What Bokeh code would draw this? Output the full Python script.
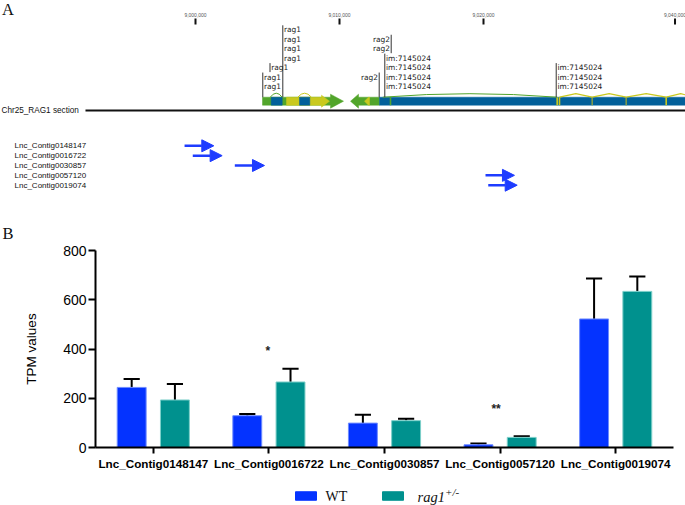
import numpy as np
from bokeh.plotting import figure
from bokeh.models import (ColumnDataSource, Range1d, FactorRange, FixedTicker,
                          Arrow, NormalHead)
from bokeh.layouts import column
from bokeh.transform import dodge
from bokeh.core.properties import value
from bokeh.embed import file_html
from bokeh.resources import INLINE

# ------------------------------------------------------------------ data
contigs = ["Lnc_Contig0148147", "Lnc_Contig0016722", "Lnc_Contig0030857",
           "Lnc_Contig0057120", "Lnc_Contig0019074"]
contig_start = [8999240, 8999810, 9002730, 9020140, 9020330]
contig_end = [9001270, 9001850, 9004790, 9022150, 9022340]

scale_pos = [9000000, 9010000, 9020000, 9033300]
scale_labels = ["9,000,000", "9,010,000", "9,020,000", "9,040,000"]

chrom_name = "Chr25_RAG1 section"
chrom_start = 8992360

# gene models (genomic bp)
gene_start = [9004653, 9010764]
gene_end = [9010278, 9012778]
gene_strand = [1, -1]
cds_start = [9006319, 9011736]
cds_end = [9009305, 9012083]
cds_strand = [1, -1]
exon_start = [9005257, 9007222, 9012778]
exon_end = [9006021, 9007938, 9034100]
marker_pos = [9013542, 9025117, 9025277, 9027548, 9029909, 9032687]
marker_kind = ["g", "y", "y", "gy", "gy", "y"]
arc_start = [9005190, 9007100, 9013000]
arc_end = [9006021, 9008050, 9025117]
arc_kind = ["g", "y", "g"]
intron_bounds = [9025277, 9027548, 9029909, 9032687, 9034700]

# feature annotations
ann_text = ["rag1", "rag1", "rag1", "rag2", "rag2", "im:7145024", "im:7145024"]
ann_pos = [9004673, 9005174, 9006063, 9012757, 9013590, 9013146, 9025049]
ann_count = [2, 1, 4, 1, 2, 4, 3]
ann_level0 = [0, 2, 3, 1, 4, 0, 0]
ann_side = ["right", "right", "right", "left", "left", "right", "right"]
ann_to_bar = [True, False, True, True, False, True, True]

# expression (TPM)
wt_mean = [244, 129, 99, 11, 522]
wt_err = [34, 7, 34, 5, 164]
rag_mean = [193, 266, 109, 41, 634]
rag_err = [65, 54, 8, 5, 60]
sig_contig = ["Lnc_Contig0016722", "Lnc_Contig0057120"]
sig_text = ["*", "**"]
sig_y = [391, 158]
sig_xoff = [-1, -4]

series = ["WT", "rag1"]
series_sup = ["", "+/-"]
y_ticks = [0, 200, 400, 600, 800]

# ------------------------------------------------------------------ style
GREEN = "#52A52B"
YELLOW = "#C9C91F"
GBLUE = "#02609A"
ARROW_BLUE = "#1E3CFF"
WT_C = "#0433FF"
RAG_C = "#00918E"
WT_EDGE = "#6E8BFF"
RAG_EDGE = "#7CCFC9"
series_colors = [WT_C, RAG_C]
kind_color = {"g": GREEN, "y": YELLOW, "gy": "#7E9A4A"}

W = 685
X_LEFT, X_RIGHT = 8986458, 9034028
BP_PER_PX = (X_RIGHT - X_LEFT) / 685.0


def gx(px):
    return X_LEFT + px * BP_PER_PX


def no_align(p):
    try:
        p.frame_align = False
    except Exception:
        pass


# ================================================================ panel A
p1 = figure(width=W, height=200, x_range=Range1d(X_LEFT, X_RIGHT),
            y_range=Range1d(200, 0), x_axis_location=None, y_axis_location=None,
            min_border=0, outline_line_color=None, output_backend="svg",
            toolbar_location=None, tools="")
p1.grid.visible = False
no_align(p1)

p1.text(x=[gx(1.5)], y=[-0.5], text=["A"], text_baseline="top",
        text_font=value("Liberation Serif"), text_font_size=value("16.5px"),
        text_color="#111")

# scale bar
p1.segment(x0=scale_pos, y0=18, x1=scale_pos, y1=24, line_width=2, line_color="#111")
p1.text(x=scale_pos, y=14, text=scale_labels, text_align="center",
        text_baseline="middle", text_font=value("Liberation Sans"),
        text_font_size=value("5px"), text_color="#555")

# chromosome line
BAR_C = 100.7
p1.segment(x0=[chrom_start], y0=[110], x1=[X_RIGHT + 2000], y1=[110],
           line_width=2, line_color="#111")
p1.text(x=[gx(1)], y=[110], text=[chrom_name], text_baseline="middle",
        text_font=value("Liberation Sans"), text_font_size=value("8.2px"),
        text_color="#111")


def arrow_poly(s, e, strand, head_px, hb, hh):
    h = head_px * BP_PER_PX
    if strand > 0:
        xs = [s, e - h, e - h, e, e - h, e - h, s]
    else:
        xs = [e, s + h, s + h, s, s + h, s + h, e]
    ys = [BAR_C - hb, BAR_C - hb, BAR_C - hh, BAR_C, BAR_C + hh, BAR_C + hb, BAR_C + hb]
    return xs, ys


gxs, gys = [], []
for s, e, st in zip(gene_start, gene_end, gene_strand):
    xs, ys = arrow_poly(s, e, st, 13 if st > 0 else 8, 4, 7)
    gxs.append(xs); gys.append(ys)
p1.patches(gxs, gys, fill_color=GREEN, line_color=GREEN, line_width=0.5)

cxs, cys = [], []
for s, e, st in zip(cds_start, cds_end, cds_strand):
    xs, ys = arrow_poly(s, e, st, 8 if st > 0 else 4, 4, 6 if st > 0 else 4)
    cxs.append(xs); cys.append(ys)
p1.patches(cxs, cys, fill_color=YELLOW, line_color=YELLOW, line_width=0.5)

p1.quad(left=exon_start, right=exon_end, top=BAR_C - 4, bottom=BAR_C + 4,
        fill_color=GBLUE, line_color=GBLUE, line_width=0.5)

p1.segment(x0=marker_pos, y0=BAR_C - 4, x1=marker_pos, y1=BAR_C + 4,
           line_width=1.6, line_color=[kind_color[k] for k in marker_kind])

p1.quadratic(x0=arc_start, y0=BAR_C - 4, x1=arc_end, y1=BAR_C - 4,
             cx=[(a + b) / 2 for a, b in zip(arc_start, arc_end)],
             cy=[BAR_C - 12, BAR_C - 12, BAR_C - 11],
             line_color=[kind_color[k] for k in arc_kind], line_width=1)

zx, zy = [], []
for a, b in zip(intron_bounds[:-1], intron_bounds[1:]):
    zx.append([a, (a + b) / 2, b]); zy.append([BAR_C - 4, BAR_C - 7.5, BAR_C - 4])
p1.multi_line(zx, zy, line_color=YELLOW, line_width=1.2)

# annotations with pointer lines
LEVEL_Y0, LEVEL_DY = 86.0, 9.45
tx, ty, tt, ta = [], [], [], []
lx0, ly0, ly1 = [], [], []
for t, pos, n, l0, side, tobar in zip(ann_text, ann_pos, ann_count, ann_level0,
                                      ann_side, ann_to_bar):
    levels = [l0 + i for i in range(n)]
    for lv in levels:
        tx.append(pos + (1.2 if side == "right" else -1.2) * BP_PER_PX)
        ty.append(LEVEL_Y0 - LEVEL_DY * lv)
        tt.append(t)
        ta.append("left" if side == "right" else "right")
    top = LEVEL_Y0 - LEVEL_DY * max(levels) - 4.5
    bottom = BAR_C - 4 if tobar else LEVEL_Y0 - LEVEL_DY * min(levels) + 4.5
    lx0.append(pos); ly0.append(top); ly1.append(bottom)
p1.segment(x0=lx0, y0=ly0, x1=lx0, y1=ly1, line_color="#333", line_width=1)
p1.text(x=tx, y=ty, text=tt, text_align=ta, text_baseline="middle",
        text_font=value("DejaVu Sans"), text_font_size=value("7.45px"),
        text_color="#222")

# lncRNA contigs
rows = [145.3 + 9.85 * i for i in range(len(contigs))]
p1.text(x=[gx(14)] * len(contigs), y=rows, text=contigs, text_baseline="middle",
        text_font=value("Liberation Sans"), text_font_size=value("8px"),
        text_color="#111")
csrc = ColumnDataSource(dict(s=contig_start, e=contig_end, y=rows))
p1.add_layout(Arrow(end=NormalHead(size=12, fill_color=ARROW_BLUE,
                                   line_color=ARROW_BLUE, line_width=1),
                    x_start="s", y_start="y", x_end="e", y_end="y",
                    line_color=ARROW_BLUE, line_width=2.5, source=csrc))

# ================================================================ panel B
p2 = figure(width=W, height=278, x_range=FactorRange(*contigs),
            y_range=Range1d(0, 800), output_backend="svg",
            toolbar_location=None, tools="", title="B",
            min_border_left=95, min_border_right=12, min_border_top=50,
            min_border_bottom=31)
no_align(p2)
p2.x_range.range_padding = 0
p2.outline_line_color = None
p2.grid.visible = False
p2.title.text_font = "Liberation Serif"
p2.title.text_font_style = "normal"
p2.title.text_font_size = "16.5px"
p2.title.text_color = "#111"
p2.title.align = "left"
p2.title.offset = -93
p2.title.standoff = 15

src = ColumnDataSource(dict(
    cat=contigs, wt=wt_mean, rag=rag_mean,
    wt_hi=[m + e for m, e in zip(wt_mean, wt_err)],
    rag_hi=[m + e for m, e in zip(rag_mean, rag_err)]))

OFF, BW, CAP = 0.187, 0.25, 0.07
for col, hi, off, c, ec in [("wt", "wt_hi", -OFF, WT_C, WT_EDGE),
                            ("rag", "rag_hi", OFF, RAG_C, RAG_EDGE)]:
    p2.segment(x0=dodge("cat", off, range=p2.x_range), y0=col,
               x1=dodge("cat", off, range=p2.x_range), y1=hi,
               source=src, line_color="black", line_width=2)
    p2.segment(x0=dodge("cat", off - CAP, range=p2.x_range), y0=hi,
               x1=dodge("cat", off + CAP, range=p2.x_range), y1=hi,
               source=src, line_color="black", line_width=2)
    p2.vbar(x=dodge("cat", off, range=p2.x_range), top=col, width=BW,
            source=src, fill_color=c, line_color=ec, line_width=1)

p2.text(x=sig_contig, y=sig_y, text=sig_text, x_offset=sig_xoff,
        text_align="center", text_baseline="middle",
        text_font=value("Liberation Sans"), text_font_size=value("12px"),
        text_font_style="bold", text_color="#222")

for ax in (p2.xaxis, p2.yaxis):
    ax.axis_line_width = 2
    ax.axis_line_color = "black"
    ax.major_tick_line_width = 2
    ax.major_tick_line_color = "black"
    ax.major_tick_in = 0
    ax.minor_tick_line_color = None
    ax.major_label_text_color = "black"
    ax.major_label_text_font = "Liberation Sans"

p2.yaxis.ticker = FixedTicker(ticks=y_ticks)
p2.yaxis.major_tick_out = 7
p2.yaxis.major_label_standoff = 2
p2.yaxis.major_label_text_font_size = "14px"
p2.yaxis.axis_label = "TPM values"
p2.yaxis.axis_label_text_font = "Liberation Sans"
p2.yaxis.axis_label_text_font_style = "normal"
p2.yaxis.axis_label_text_font_size = "13.5px"
p2.yaxis.axis_label_text_color = "black"
p2.yaxis.axis_label_standoff = 21

p2.xaxis.major_tick_out = 6
p2.xaxis.major_label_standoff = 3
p2.xaxis.major_label_text_font_size = "11.7px"
p2.xaxis.major_label_text_font_style = "bold"

# ================================================================ legend strip
p3 = figure(width=W, height=27, x_range=Range1d(0, 685), y_range=Range1d(505, 478),
            x_axis_location=None, y_axis_location=None, min_border=0,
            outline_line_color=None, output_backend="svg",
            toolbar_location=None, tools="")
p3.grid.visible = False
no_align(p3)
LX0, LSTEP, LY = 305.5, 87, 495.5
sw_x = [LX0 + LSTEP * i for i in range(len(series))]
p3.rect(x=sw_x, y=LY, width=21, height=8.5, fill_color=series_colors,
        line_color=series_colors)
p3.text(x=[sw_x[0] + 19.5], y=[LY + 0.5], text=[series[0]], text_baseline="middle",
        text_font=value("Liberation Serif"), text_font_size=value("14px"),
        text_color="#111")
p3.text(x=[sw_x[1] + 24.5], y=[LY + 0.5], text=[series[1]], text_baseline="middle",
        text_font=value("Liberation Serif"), text_font_size=value("14.5px"),
        text_font_style="italic", text_color="#111")
p3.text(x=[sw_x[1] + 52], y=[LY - 4.5], text=[series_sup[1]], text_baseline="middle",
        text_font=value("Liberation Serif"), text_font_size=value("11px"),
        text_font_style="italic", text_color="#111")

layout = column(p1, p2, p3, spacing=0)
open("out.html", "w").write(file_html(layout, INLINE))
